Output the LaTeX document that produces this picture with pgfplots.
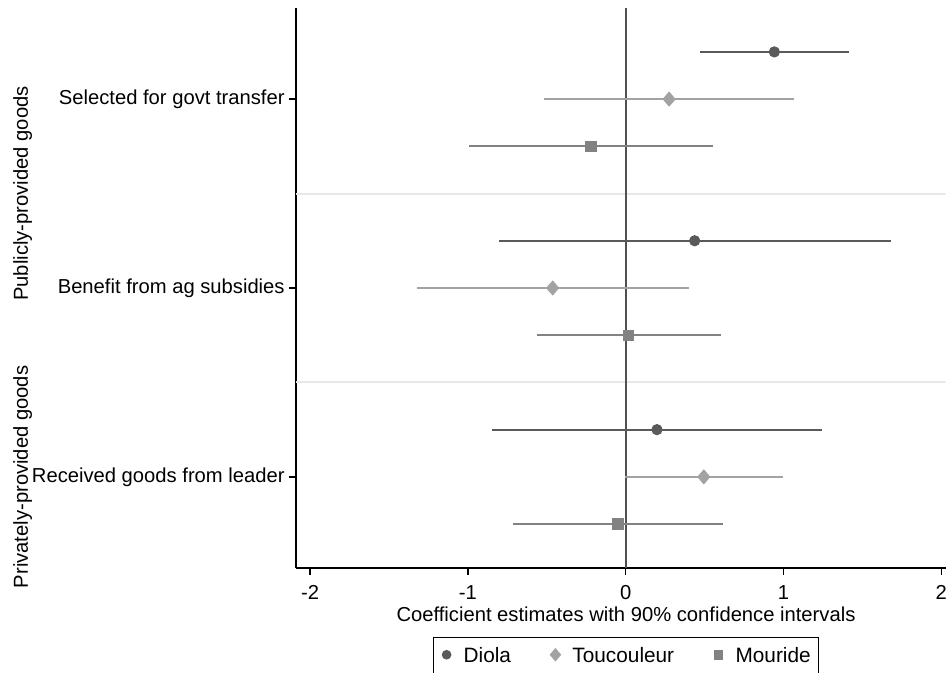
\documentclass[border=0pt]{standalone}
\usepackage{fontspec}
\setmainfont{Liberation Sans}
\usepackage{pgfplots}
\usepackage{pgfplotstable}
\pgfplotsset{compat=1.18}
\definecolor{diola}{HTML}{5A5A5A}
\definecolor{touc}{HTML}{A2A2A2}
\definecolor{mour}{HTML}{828282}
\definecolor{sepc}{HTML}{E8E8E8}
\definecolor{zeroc}{HTML}{505050}
\pgfplotsset{legimg/.style={legend image code/.code={\draw[##1, mark size=#1] plot coordinates {(0pt,1.1pt)}; \path[draw=none, fill=none] (-2.6pt,1pt) -- (8.5pt,1pt);}}}

\pgfplotstableread{
y est lo hi
10 0.942 0.468 1.418
6 0.437 -0.804 1.680
2 0.198 -0.847 1.243
}\diolatab
\pgfplotstableread{
y est lo hi
9 0.275 -0.516 1.066
5 -0.463 -1.325 0.402
1 0.495 -0.005 0.995
}\touctab
\pgfplotstableread{
y est lo hi
8 -0.222 -0.995 0.550
4 0.016 -0.563 0.601
0 -0.050 -0.714 0.616
}\mourtab

\begin{document}
\begin{tikzpicture}
\begin{axis}[
  scale only axis, width=325pt, height=280pt,
  xmin=-2.09, xmax=2.03, ymin=-0.93, ymax=10.93,
  axis lines=left, axis line style={-, line width=0.7pt, black},
  xtick={-2,-1,0,1,2}, xticklabels={-2,-1,0,1,2},
  ytick={1,5,9},
  yticklabels={Received goods from leader, Benefit from ag subsidies, Selected for govt transfer},
  tick align=outside, major tick length=3.5pt,
  tick style={line width=0.7pt, black},
  font=\fontsize{10.1}{12}\selectfont,
  xticklabel style={inner sep=0pt, anchor=north, yshift=-5pt},
  yticklabel style={inner sep=0pt, anchor=east, xshift=-2pt},
  xlabel={Coefficient estimates with 90\% confidence intervals},
  xlabel style={at={(axis description cs:0.5077,0)}, anchor=base, yshift=-27pt, inner sep=0pt},
  clip=false,
  legend columns=3,
  legend style={at={(0.2108,-0.1227)}, anchor=north west, draw=black, line width=0.6pt,
    inner xsep=3.9pt, inner ysep=5.3pt, font=\fontsize{10.4}{12}\selectfont,
    nodes={inner sep=0pt},
    /tikz/every even column/.append style={column sep=19.6pt}},
  error bars/error mark=none,
]
\addplot[forget plot, sepc, line width=1pt] coordinates {(-2.09,7) (2.03,7)};
\addplot[forget plot, sepc, line width=1pt] coordinates {(-2.09,3) (2.03,3)};
\addplot[forget plot, zeroc, line width=0.9pt] coordinates {(0,-0.93) (0,10.93)};

\addplot[only marks, mark=*, mark size=2.6pt, color=diola, legimg=2.1pt,
  error bars/.cd, x dir=both, x explicit, error bar style={line width=1pt, color=diola}]
  table[x=est, y=y, x error plus expr=\thisrow{hi}-\thisrow{est}, x error minus expr=\thisrow{est}-\thisrow{lo}] {\diolatab};
\addlegendentry{Diola}
\addplot[only marks, mark=diamond*, mark size=3.5pt, color=touc, mark options={xscale=1.15}, legimg=2.9pt,
  error bars/.cd, x dir=both, x explicit, error bar style={line width=1pt, color=touc}]
  table[x=est, y=y, x error plus expr=\thisrow{hi}-\thisrow{est}, x error minus expr=\thisrow{est}-\thisrow{lo}] {\touctab};
\addlegendentry{Toucouleur}
\addplot[only marks, mark=square*, mark size=2.65pt, color=mour, legimg=2.1pt,
  error bars/.cd, x dir=both, x explicit, error bar style={line width=1pt, color=mour}]
  table[x=est, y=y, x error plus expr=\thisrow{hi}-\thisrow{est}, x error minus expr=\thisrow{est}-\thisrow{lo}] {\mourtab};
\addlegendentry{Mouride}

\node[rotate=90, anchor=base, inner sep=0pt] at (axis cs:-3.79,7) {Publicly-provided goods};
\node[rotate=90, anchor=base, inner sep=0pt] at (axis cs:-3.79,1) {Privately-provided goods};
\end{axis}
\pgfresetboundingbox
\useasboundingbox (-148pt,-52.5pt) rectangle (325pt,284pt);
\end{tikzpicture}
\end{document}
